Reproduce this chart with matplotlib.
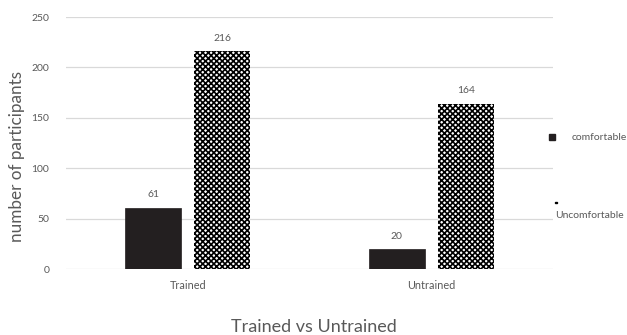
import matplotlib
matplotlib.use("Agg")
import matplotlib.pyplot as plt
from matplotlib.patches import Rectangle
import numpy as np

categories = ["Trained", "Untrained"]
comfortable = [61, 20]
uncomfortable = [216, 164]
series_names = ["comfortable", "Uncomfortable"]
y_ticks = [0, 50, 100, 150, 200, 250]

plt.rcParams["font.family"] = ["Lato", "DejaVu Sans"]
plt.rcParams["hatch.linewidth"] = 1.2

gray = "#595959"
fig = plt.figure(figsize=(6.27, 3.35), dpi=100)
ax = fig.add_axes([0.1053, 0.197, 0.7767, 0.752])

x = np.arange(len(categories))
w = 0.23
off = 0.142
b1 = ax.bar(x - off, comfortable, w, color="#231f20", edgecolor="#231f20", lw=0.5, zorder=3)
b2 = ax.bar(x + off, uncomfortable, w, color="white", edgecolor="black", hatch="xxxxxx", lw=0, zorder=3)

for bars, vals in ((b1, comfortable), (b2, uncomfortable)):
    for r, v in zip(bars, vals):
        ax.annotate(str(v), (r.get_x() + r.get_width() / 2, v), xytext=(0, 6),
                    textcoords="offset points", ha="center", va="bottom",
                    fontsize=7.5, color=gray)

ax.set_xlim(-0.5, 1.5)
ax.set_ylim(0, 250)
ax.set_yticks(y_ticks)
ax.set_xticks(x)
ax.set_xticklabels(categories, fontsize=7.8)
ax.tick_params(axis="both", length=0, labelcolor=gray)
ax.tick_params(axis="y", pad=12, labelsize=7.5)
ax.tick_params(axis="x", pad=8)
ax.grid(axis="y", color="#d9d9d9", lw=0.9, zorder=0)
for s in ax.spines.values():
    s.set_visible(False)

ax.set_ylabel("number of participants", fontsize=12.3, color=gray)
ax.yaxis.set_label_coords(-0.084, 0.448)
fig.text(0.5, 0.008, "Trained vs Untrained", ha="center", va="baseline", fontsize=13, color=gray)

# legend drawn at the right edge
fig.patches.append(Rectangle((549 / 627, 1 - 140 / 335), 6 / 627, 6 / 335,
                             transform=fig.transFigure, color="#231f20", figure=fig))
fig.text(572 / 627, 1 - 137 / 335, series_names[0], fontsize=7.5, color=gray, va="center")
fig.patches.append(Rectangle((555 / 627, 1 - 203 / 335), 1.5 / 627, 1.5 / 335,
                             transform=fig.transFigure, color="black", figure=fig))
fig.text(555 / 627, 1 - 216 / 335, series_names[1], fontsize=7.5, color=gray, va="center")

fig.savefig("out.png", dpi=100)
